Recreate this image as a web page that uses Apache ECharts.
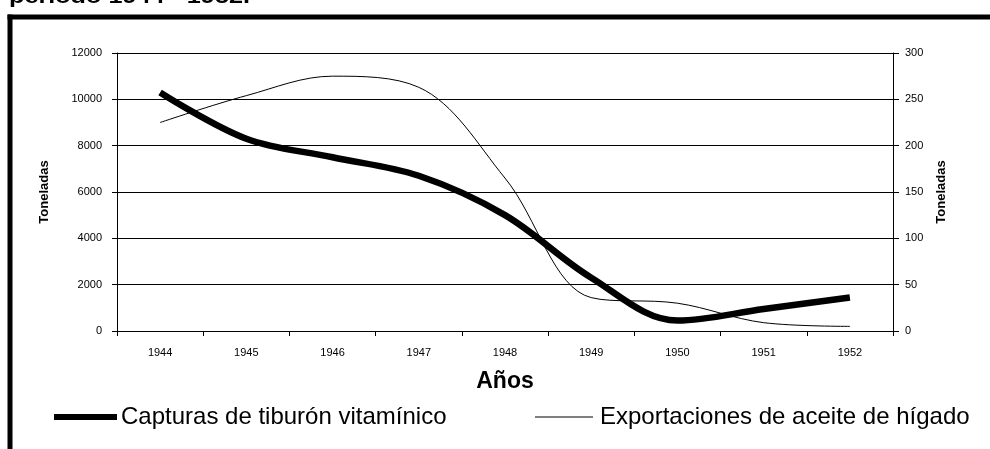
<!DOCTYPE html>
<html>
<head>
<meta charset="utf-8">
<script src="https://cdn.jsdelivr.net/npm/echarts@6/dist/echarts.min.js"></script>
<style>
  html, body { margin: 0; padding: 0; background: #fff; }
  #chart { width: 990px; height: 449px; }
</style>
</head>
<body>
<div id="chart"></div>
<script>
// ---- data ----
const years = ['1944', '1945', '1946', '1947', '1948', '1949', '1950', '1951', '1952'];
const capturas = [10300, 8300, 7500, 6700, 5000, 2300, 450, 950, 1450];      // left axis (Toneladas)
const exportaciones = [225, 254, 275, 263, 165, 36, 30, 9, 5];              // right axis (Toneladas)
const leftTicks = [0, 2000, 4000, 6000, 8000, 10000, 12000];
const rightTicks = [0, 50, 100, 150, 200, 250, 300];
const nameCapturas = 'Capturas de tiburón vitamínico';
const nameExport = 'Exportaciones de aceite de hígado';
const titleTail = 'periodo 1944 - 1952.';

const FONT = "'Liberation Sans', Arial, sans-serif";
const chart = echarts.init(document.getElementById('chart'), null, { renderer: 'canvas' });

const option = {
  backgroundColor: '#ffffff',
  animation: false,
  textStyle: { fontFamily: FONT, color: '#000' },
  graphic: [
    { type: 'text', x: 9, y: -13, scaleX: 1.2, style: { text: titleTail, font: 'bold 21px ' + FONT, fill: '#000' } },
    { type: 'rect', shape: { x: 7.5, y: 14.5, width: 990, height: 5 }, style: { fill: '#000' } },
    { type: 'rect', shape: { x: 7.5, y: 14.5, width: 5, height: 440 }, style: { fill: '#000' } }
  ],
  grid: { left: 117, right: 97, top: 53, bottom: 118, containLabel: false },
  legend: [
    {
      data: [nameCapturas], left: 54, top: 405, padding: 0, icon: 'rect', itemWidth: 63, itemHeight: 6,
      textStyle: { fontSize: 24, color: '#000', fontFamily: FONT, padding: [0, 0, 0, -1] }
    },
    {
      data: [nameExport], left: 535, top: 405, padding: 0, icon: 'rect', itemWidth: 58, itemHeight: 1,
      textStyle: { fontSize: 24, color: '#000', fontFamily: FONT, padding: [0, 0, 0, 2] }
    }
  ],
  xAxis: {
    type: 'category',
    data: years,
    boundaryGap: true,
    name: 'Años',
    nameLocation: 'middle',
    nameGap: 39,
    nameTextStyle: { fontSize: 23, fontWeight: 'bold', color: '#000', fontFamily: FONT },
    axisLine: { lineStyle: { color: '#000', width: 1 } },
    axisTick: { show: true, length: 5, lineStyle: { color: '#000' } },
    axisLabel: { fontSize: 11, color: '#000', margin: 16, fontFamily: FONT },
    splitLine: { show: false }
  },
  yAxis: [
    {
      type: 'value', min: leftTicks[0], max: leftTicks[leftTicks.length - 1], interval: 2000,
      name: 'Toneladas', nameLocation: 'middle', nameGap: 66, nameRotate: 90,
      nameTextStyle: { fontSize: 13, fontWeight: 'bold', color: '#000', fontFamily: FONT },
      axisLine: { show: true, lineStyle: { color: '#000', width: 1 } },
      axisTick: { show: true, length: 5, lineStyle: { color: '#000' } },
      axisLabel: { fontSize: 11, color: '#000', margin: 15, fontFamily: FONT, formatter: v => String(v) },
      splitLine: { show: true, lineStyle: { color: '#000', width: 1 } }
    },
    {
      type: 'value', min: rightTicks[0], max: rightTicks[rightTicks.length - 1], interval: 50,
      position: 'right',
      name: 'Toneladas', nameLocation: 'middle', nameGap: 42, nameRotate: 90,
      nameTextStyle: { fontSize: 13, fontWeight: 'bold', color: '#000', fontFamily: FONT },
      axisLine: { show: true, lineStyle: { color: '#000', width: 1 } },
      axisTick: { show: true, length: 6, lineStyle: { color: '#000' } },
      axisLabel: { fontSize: 11, color: '#000', margin: 12, fontFamily: FONT, formatter: v => String(v) },
      splitLine: { show: false }
    }
  ],
  series: [
    {
      name: nameCapturas, type: 'line', yAxisIndex: 0, data: capturas,
      smooth: 0.35, symbol: 'none', color: '#000',
      lineStyle: { color: '#000', width: 6.5, cap: 'butt', join: 'round' }, z: 3
    },
    {
      name: nameExport, type: 'line', yAxisIndex: 1, data: exportaciones,
      smooth: 0.35, symbol: 'none', color: '#000',
      lineStyle: { color: '#000', width: 1 }, z: 2
    }
  ]
};
chart.setOption(option);
</script>
</body>
</html>
